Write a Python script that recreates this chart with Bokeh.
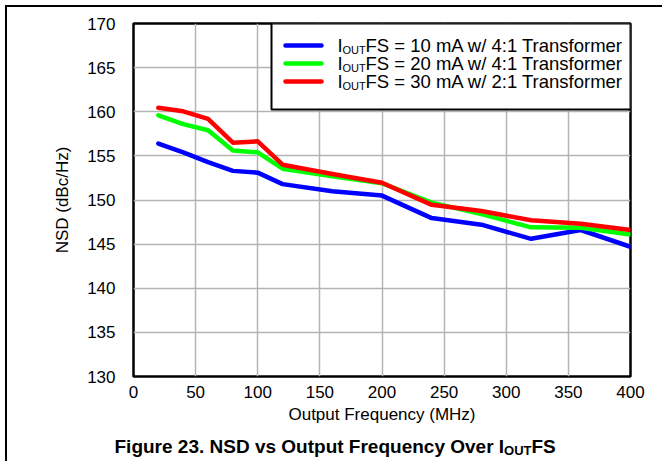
from bokeh.plotting import figure
from bokeh.models import Range1d, Div, Spacer
from bokeh.layouts import column, row
from bokeh.core.properties import value
from bokeh.embed import file_html
from bokeh.resources import INLINE

# ---- data ----
freq_mhz = [20, 40, 60, 80, 100, 120, 160, 200, 240, 280, 320, 360, 400]
nsd_10ma = [156.4, 155.4, 154.3, 153.3, 153.1, 151.8, 151.0, 150.5, 147.95, 147.2, 145.6, 146.6, 144.7]
nsd_20ma = [159.6, 158.6, 157.9, 155.6, 155.4, 153.55, 152.7, 151.9, 149.7, 148.4, 146.9, 146.85, 146.1]
nsd_30ma = [160.45, 160.05, 159.2, 156.5, 156.65, 154.0, 152.95, 151.95, 149.45, 148.75, 147.7, 147.3, 146.6]

series_names = ["FS = 10 mA w/ 4:1 Transformer",
                "FS = 20 mA w/ 4:1 Transformer",
                "FS = 30 mA w/ 2:1 Transformer"]
series_colors = ["#0000ff", "#00ff00", "#ff0000"]

x_ticks = [0, 50, 100, 150, 200, 250, 300, 350, 400]
y_ticks = [130, 135, 140, 145, 150, 155, 160, 165, 170]

x_label = "Output Frequency (MHz)"
y_label = "NSD (dBc/Hz)"
title_main = "Figure 23. NSD vs Output Frequency Over I"
title_sub = "OUT"
title_end = "FS"

FONT = "Liberation Sans"

W, H = 655, 424
ML, MR, MT, MB = 126, 32, 16, 55
p = figure(width=W, height=H, x_range=Range1d(0, 400), y_range=Range1d(130, 170),
           output_backend="svg", toolbar_location=None,
           min_border_left=ML, min_border_right=MR, min_border_top=MT, min_border_bottom=MB)
p.frame_align = False
p.margin = 0

fw = W - ML - MR
fh = H - MT - MB

def dx(px):  # pixel offset from frame left -> data x
    return 400.0 * px / fw

def dy(py):  # pixel offset from frame top -> data y
    return 170.0 - 40.0 * py / fh

p.outline_line_color = "black"
p.outline_line_width = 2.5
p.background_fill_color = "white"
p.border_fill_color = "white"

for ax in (p.xaxis, p.yaxis):
    ax.axis_line_color = None
    ax.major_tick_line_color = None
    ax.minor_tick_line_color = None
    ax.major_label_text_font = FONT
    ax.major_label_text_font_size = "17px"
    ax.major_label_text_color = "black"
    ax.axis_label_text_font = FONT
    ax.axis_label_text_font_size = "17px"
    ax.axis_label_text_font_style = "normal"
    ax.axis_label_text_color = "black"

p.xaxis.ticker = x_ticks
p.yaxis.ticker = y_ticks
p.xaxis.axis_label = x_label
p.yaxis.axis_label = y_label
p.xaxis.major_label_standoff = 3
p.yaxis.major_label_standoff = 12
p.xaxis.axis_label_standoff = 4
p.yaxis.axis_label_standoff = 12

p.grid.grid_line_color = "#b4b4b4"
p.grid.grid_line_width = 1.5

for ys, c in zip([nsd_10ma, nsd_20ma, nsd_30ma], series_colors):
    p.line(freq_mhz, ys, line_color=c, line_width=4.5, line_join="round", line_cap="round")

# ---- legend box (top right, inside frame) ----
p.quad(left=dx(138), right=400, top=170, bottom=dy(86),
       fill_color="white", line_color="black", line_width=2)
row_py = [22, 40, 58]
for rpy, c, name in zip(row_py, series_colors, series_names):
    p.segment(x0=dx(152), y0=dy(rpy), x1=dx(188), y1=dy(rpy),
              line_color=c, line_width=4.5, line_cap="round")
    p.text(x=[dx(204)], y=[dy(rpy)], text=["I"], text_font=value(FONT),
           text_font_size=value("18.5px"), text_baseline="middle", text_align="left", text_color="black")
    p.text(x=[dx(209)], y=[dy(rpy + 4)], text=["OUT"], text_font=value(FONT),
           text_font_size=value("11px"), text_baseline="middle", text_align="left", text_color="black")
    p.text(x=[dx(232)], y=[dy(rpy)], text=[name], text_font=value(FONT),
           text_font_size=value("18.5px"), text_baseline="middle", text_align="left", text_color="black")

# ---- caption strip below the chart ----
CW, CH = W, 30
cap = figure(width=CW, height=CH, x_range=Range1d(0, CW), y_range=Range1d(0, CH),
             output_backend="svg", toolbar_location=None,
             x_axis_location=None, y_axis_location=None, min_border=0)
cap.frame_align = False
cap.margin = 0
cap.outline_line_color = None
cap.grid.visible = False
cap.border_fill_color = "white"
base = CH - 15
cap.text(x=[107], y=[base], text=[title_main], text_font=value(FONT),
         text_font_size=value("19px"), text_font_style="bold",
         text_baseline="alphabetic", text_align="left", text_color="black")
cap.text(x=[496.6], y=[base - 4], text=[title_sub], text_font=value(FONT),
         text_font_size=value("13px"), text_font_style="bold",
         text_baseline="alphabetic", text_align="left", text_color="black")
cap.text(x=[524], y=[base], text=[title_end], text_font=value(FONT),
         text_font_size=value("19px"), text_font_style="bold",
         text_baseline="alphabetic", text_align="left", text_color="black")

# ---- page rules (top and left), as in the data-sheet page ----
top_rule = Div(text="", width=W + 2, height=2, margin=0, styles={"background-color": "black"})
left_rule = Div(text="", width=2, height=H + CH, margin=0, styles={"background-color": "black"})

inner = column(top_rule,
               row(left_rule, column(p, cap, margin=0, spacing=0), margin=0, spacing=0),
               margin=0, spacing=0)
layout = column(Spacer(width=5, height=5, margin=0),
                row(Spacer(width=5, height=5, margin=0), inner, margin=0, spacing=0),
                margin=0, spacing=0)

open("out.html", "w").write(file_html(layout, INLINE))
